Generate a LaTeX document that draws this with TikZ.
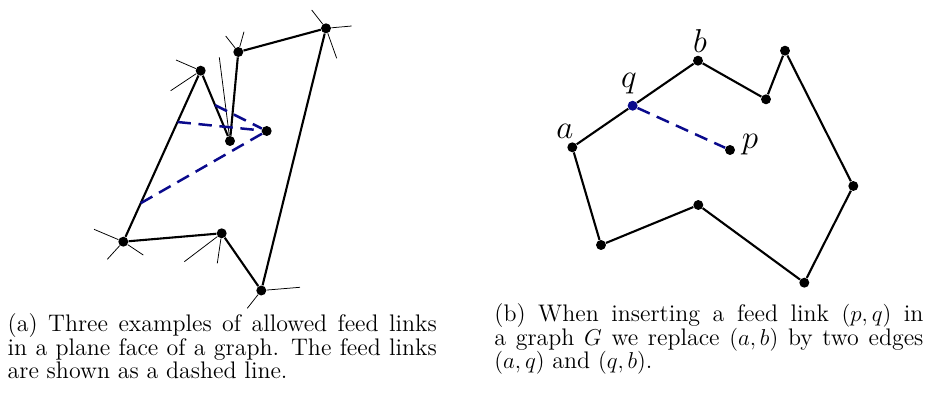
\documentclass[tikz,border=0pt]{standalone}
\usetikzlibrary{calc}
\definecolor{feedblue}{RGB}{10,10,140}
\begin{document}
\begin{tikzpicture}[x=0.522pt, y=-0.522pt,
  vertex/.style={circle, fill=black, inner sep=0pt, minimum size=5.2pt},
  edge/.style={line width=1.1pt},
  stub/.style={line width=0.4pt},
  feed/.style={draw=feedblue, line width=1.3pt, dash pattern=on 7pt off 4pt},
  lbl/.style={font=\fontsize{18}{20}\selectfont, inner sep=0pt},
  caption/.style={anchor=north west, inner sep=0pt, text width=224pt, align=justify,
                  font=\fontsize{12.5}{12.4}\selectfont}]
\useasboundingbox (0,0) rectangle (926,406);

% (a) one plane face, the point inside and three feed links
\foreach \n/\x/\y in {A/326/28.3, B/238.3/52, C/200.7/70.7, D/230/141,
                      F/123.3/241.7, G/221.7/233.3, H/261.3/290.5, fp/266.7/131}
  \node[vertex] (\n) at (\x,\y) {};

% edges of the face
\draw[edge] (F) -- (C) -- (D) -- (B) -- (A) -- (H) -- (G) -- (F);

% loose edge ends leaving the face
\foreach \v/\k/\x/\y in {A/1/311.7/10, A/2/351.7/26, A/3/336.7/58.3,
                         B/1/225.7/36, B/2/244/31.7,
                         C/1/176/60, C/2/170.7/90.7,
                         D/1/219.3/57.3,
                         F/1/94/229.3, F/2/107.3/259.3, F/3/143.3/255,
                         G/1/184.3/261.7, G/2/217.3/263.3,
                         H/1/300/287.3, H/2/247.3/308.3} {
  \coordinate (\v-\k) at (\x,\y);
  \draw[stub] (\v) -- (\v-\k);
}

% feed links
\coordinate (f1) at ($(C)!0.49!(D)$);
\coordinate (f2) at ($(F)!0.7!(C)$);
\coordinate (f3) at ($(F)!0.225!(C)$);
\foreach \t in {f1,f2,f3}
  \draw[feed] (\t) -- (fp);

% (b) inserting the feed link (p,q)
\foreach \n/\x/\y in {a/572.3/147.3, b/698/60.7, c/766/99.3, d/785/50.7,
                      e/853.3/186, f/804.3/282.7, g/698.3/205, h/601/245, p/730/150}
  \node[vertex] (\n) at (\x,\y) {};
\node[vertex, fill=feedblue] (q) at ($(a)!0.48!(b)$) {};

\draw[edge] (a) -- (q) -- (b) -- (c) -- (d) -- (e) -- (f) -- (g) -- (h) -- (a);
\draw[feed] (q) -- (p);

\node[lbl] (la) at (565,131) {$a$};
\node[lbl] (lq) at (629,84) {$q$};
\node[lbl] (lb) at (700,41) {$b$};
\node[lbl] (lp) at (750,145) {$p$};

% captions
\node[caption] (capa) at (7.3,313) {(a) Three examples of allowed feed links\linebreak
  in a plane face of a graph. The feed links\linebreak are shown as a dashed line.};
\node[caption] (capb) at (494,303) {(b) When inserting a feed link $(p,q)$ in\linebreak
  a graph $G$ we replace $(a,b)$ by two edges\linebreak $(a,q)$ and $(q,b)$.};

\end{tikzpicture}
\end{document}
